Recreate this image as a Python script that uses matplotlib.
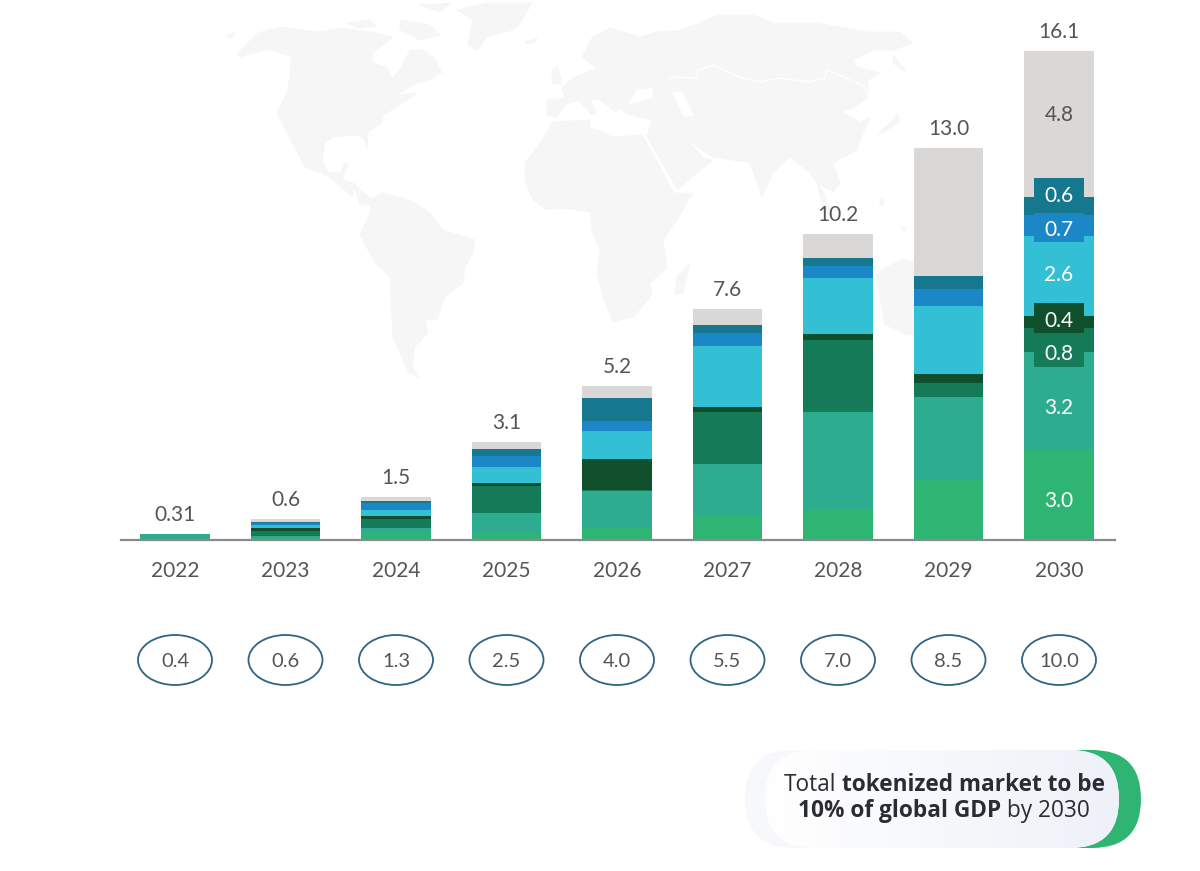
import numpy as np
import matplotlib
matplotlib.use("Agg")
import matplotlib.pyplot as plt
from matplotlib import font_manager as fm
from matplotlib.patches import Ellipse, FancyBboxPatch, Polygon, Rectangle
from matplotlib.colors import LinearSegmentedColormap, to_rgb

plt.rcParams['font.family'] = ['Lato', 'DejaVu Sans']

years = ['2022', '2023', '2024', '2025', '2026', '2027', '2028', '2029', '2030']
totals = ['0.31', '0.6', '1.5', '3.1', '5.2', '7.6', '10.2', '13.0', '16.1']
gdp_share = ['0.4', '0.6', '1.3', '2.5', '4.0', '5.5', '7.0', '8.5', '10.0']

s1 = [0.00, 0.08, 0.20, 0.20, 0.40, 0.79, 0.99, 1.98, 2.96]
s2 = [0.20, 0.06, 0.20, 0.69, 1.22, 1.71, 3.23, 2.73, 3.23]
s3 = [0.00, 0.15, 0.30, 0.89, 0.03, 1.71, 2.37, 0.46, 0.79]
s4 = [0.00, 0.10, 0.08, 0.09, 1.02, 0.16, 0.20, 0.30, 0.40]
s5 = [0.00, 0.12, 0.22, 0.53, 0.92, 2.01, 1.84, 2.24, 2.63]
s6 = [0.00, 0.04, 0.21, 0.36, 0.33, 0.43, 0.40, 0.56, 0.69]
s7 = [0.00, 0.04, 0.07, 0.23, 0.76, 0.26, 0.26, 0.43, 0.59]
s8 = [0.00, 0.11, 0.12, 0.23, 0.40, 0.53, 0.79, 4.21, 4.80]
series = [s1, s2, s3, s4, s5, s6, s7, s8]
colors = ['#2fb573', '#2dac90', '#147a58', '#0f4f2b', '#34c0d4', '#1c87c6', '#15788f', '#d9d8d6']

W, H = 1200, 871
base_px, px_per_unit = 540.0, 30.37
x0_px, step_px = 175.0, 110.5
ax_l, ax_r = 121, 1115

fig = plt.figure(figsize=(W / 100, H / 100), dpi=100, facecolor='white')

# background layer in image pixels: map, ovals, callout
bg = fig.add_axes([0, 0, 1, 1], zorder=0)
bg.set_xlim(0, W)
bg.set_ylim(H, 0)
bg.axis('off')

MAP = '#f6f6f6'
land = [
    # North America
    [(238,53),(258,33),(280,27),(317,32),(343,28),(377,33),(393,37),(373,53),(372,62),(387,68),(392,78),(400,70),
     (410,50),(423,50),(433,57),(442,72),(430,80),(417,83),(397,95),(417,93),(397,107),(383,115),(382,123),(368,132),
     (367,148),(363,137),(353,135),(333,137),(325,143),(322,160),(328,172),(340,173),(345,163),(348,165),(342,180),
     (353,183),(353,197),(330,177),(305,167),(287,133),(277,113),(288,90),(292,57),(267,49),(240,57)],
    # Arctic islands
    [(347,23),(370,20),(377,27),(357,28)],
    [(400,20),(430,25),(440,35),(420,40),(400,30)],
    [(420,5),(450,3),(440,12)],
    [(226,36),(234,33),(232,38)],
    # South America
    [(353,183),(370,198),(372,205),(360,205)],
    [(383,193),(410,200),(430,213),(443,230),(475,240),(473,253),(465,267),(463,283),(445,297),(437,320),(425,320),
     (428,332),(415,347),(412,367),(420,378),(408,372),(402,357),(393,337),(390,277),(375,263),(360,235),(370,213),
     (372,198)],
    # Greenland, Iceland
    [(457,10),(487,3),(532,3),(520,23),(513,30),(487,37),(477,50),(468,45),(473,20)],
    [(525,42),(537,38),(536,42),(527,44)],
    # Africa
    [(540,143),(553,122),(590,120),(590,127),(613,137),(643,135),(673,190),(675,193),(693,193),(677,220),(663,240),
     (667,267),(650,283),(652,295),(633,317),(613,322),(603,297),(597,273),(600,250),(592,230),(590,212),(560,208),
     (547,210),(533,200),(525,180),(525,163)],
    # Eurasia
    [(547,100),(547,115),(557,117),(565,105),(578,100),(592,115),(597,112),(590,100),(600,100),(617,113),(617,108),
     (630,115),(652,120),(647,137),(677,190),(697,173),(713,160),(703,158),(685,137),(697,147),(713,157),(750,163),
     (762,197),(773,173),(790,157),(810,173),(817,183),(833,192),(840,183),(833,163),(857,150),(860,140),(870,118),
     (860,122),(842,112),(855,107),(868,97),(868,80),(880,73),(857,67),(853,60),(873,50),(893,50),(913,43),(900,32),
     (867,32),(817,23),(773,23),(753,15),(717,15),(700,23),(680,30),(657,32),(640,37),(610,28),(592,38),(582,57),
     (597,68),(573,78),(562,88),(565,98)],
    # Australia
    [(876,275),(885,268),(903,259),(915,262),(950,270),(960,300),(950,335),(905,335),(898,330),(885,325)],
    # Madagascar
    [(690,263),(683,293),(675,295),(677,277)],
    # Islands of Asia
    [(817,183),(825,195),(832,217),(824,212)],
    [(893,55),(907,73),(893,63)],
    [(877,135),(895,118),(898,113),(899,122),(886,131)],
    [(880,199),(884,200),(883,206),(880,205)],
    [(900,226),(906,228),(904,232)],
    [(552,70),(558,66),(562,84),(552,84)],
]
for poly in land:
    bg.add_patch(Polygon(poly, closed=True, fc=MAP, ec=MAP, lw=0.6))
# white inner lines and seas of the map
bg.plot([670,673,697,698,713,740,760,780,810,825,827,840,865,868],
        [80,77,78,70,65,77,82,78,82,78,70,75,87,97], color='white', lw=0.9)
bg.add_patch(Polygon([(637,90),(652,88),(653,98),(628,105)], closed=True, fc='white', ec='none'))
bg.add_patch(Polygon([(672,92),(682,92),(694,116),(684,117)], closed=True, fc='white', ec='none'))
bg.add_patch(Polygon([(643,135),(647,137),(677,190),(673,190)], closed=True, fc='white', ec='none'))

# GDP-share ovals
for i, label in enumerate(gdp_share):
    cx = x0_px + step_px * i
    bg.add_patch(Ellipse((cx, 660), 74, 50, fc='white', ec='#2f6484', lw=1.3))
    bg.text(cx, 661, label, ha='center', va='center', fontsize=14.5, color='#555555')

# callout
def pill(x1, x2, y1=750, y2=848, rad=49, **kw):
    p = FancyBboxPatch((x1 + rad, y1 + rad), x2 - x1 - 2 * rad, y2 - y1 - 2 * rad,
                       boxstyle=f'round,pad={rad},rounding_size={rad}', **kw)
    bg.add_patch(p)
    return p

def hgrad(clip, x1, x2, stops, y1=750, y2=848):
    cmap = LinearSegmentedColormap.from_list('g', [(p, to_rgb(c)) for p, c in stops])
    im = bg.imshow(np.linspace(0, 1, 256)[None, :], extent=(x1, x2, y2, y1), cmap=cmap,
                   aspect='auto', zorder=clip.get_zorder() + 0.1)
    im.set_clip_path(clip)

green = pill(900, 1141, fc='none', ec='none', zorder=2)
hgrad(green, 990, 1141, [(0, '#eef8f3'), (0.5, '#c9ebd9'), (0.62, '#2fb573'), (1, '#2fb573')])
outer = pill(745, 1119, fc='#f7f8fc', ec='none', zorder=3)
inner = pill(765, 1119, fc='none', ec='none', zorder=4)
hgrad(inner, 765, 1119, [(0, '#ffffff'), (1, '#eef1f8')])
bg.set_xlim(0, W)
bg.set_ylim(H, 0)

# chart
ax = fig.add_axes([ax_l / W, 1 - base_px / H, (ax_r - ax_l) / W, base_px / H], zorder=1)
ax.patch.set_visible(False)
ax.set_xlim((ax_l - x0_px) / step_px, (ax_r - x0_px) / step_px)
ax.set_ylim(0, base_px / px_per_unit)
for side in ('top', 'left', 'right'):
    ax.spines[side].set_visible(False)
ax.spines['bottom'].set_color('#8a8a8a')
ax.spines['bottom'].set_linewidth(1.6)
ax.set_yticks([])
xs = np.arange(len(years))
ax.set_xticks(xs, years)
ax.tick_params(axis='x', length=0, pad=15, labelsize=15, labelcolor='#555555')

bottom = np.zeros(len(years))
for vals, col in zip(series, colors):
    ax.bar(xs, vals, width=69.5 / step_px, bottom=bottom, color=col, linewidth=0)
    bottom += np.array(vals)

for x, top, lab in zip(xs, bottom, totals):
    ax.annotate(lab, (x, top), xytext=(0, 9), textcoords='offset pixels', ha='center', va='bottom',
                fontsize=15, color='#555555')

# value labels of the last bar
seg_labels = ['3.0', '3.2', '0.8', '0.4', '2.6', '0.7', '0.6', '4.8']
seg_centers_px = [501, 408, 354, 321, 275, 230, 196, 115]
box_px = {2: (328, 367), 3: (303, 333), 5: (213, 242), 6: (178, 213)}
toy = lambda p: (base_px - p) / px_per_unit
bw = 50 / step_px
for k in [6, 5, 2, 3]:
    a, b = box_px[k]
    ax.add_patch(Rectangle((8 - bw / 2, toy(b)), bw, toy(a) - toy(b), fc=colors[k], ec='none', zorder=3))
for k, (lab, p) in enumerate(zip(seg_labels, seg_centers_px)):
    ax.text(8, toy(p), lab, ha='center', va='center', fontsize=15, zorder=4,
            color='#555555' if k == 7 else 'white')

# callout text: regular and bold runs placed side by side
bold_fams = {f.name for f in fm.fontManager.ttflist
             if (f.weight == 700 or f.weight == 'bold')}
callout_font = next((n for n in ['Open Sans', 'Noto Sans', 'Roboto', 'Inter', 'Lato', 'Liberation Sans']
                     if n in bold_fams), 'DejaVu Sans')

def run_line(parts, y, x_center, size=16.3):
    fig.canvas.draw()
    r = fig.canvas.get_renderer()
    items = [bg.text(0, y, t, fontsize=size, fontweight=w, family=callout_font,
                     color='#2b2b33', va='center', ha='left', zorder=6) for t, w in parts]
    widths = [it.get_window_extent(r).width for it in items]
    sp = size * 100 / 72 * 0.26
    total = sum(widths) + sp * (len(items) - 1)
    x = x_center - total / 2
    for it, w in zip(items, widths):
        it.set_x(x)
        x += w + sp

run_line([('Total', 'normal'), ('tokenized market to be', 'bold')], 785, 944)
run_line([('10% of global GDP', 'bold'), ('by 2030', 'normal')], 811, 944)

fig.savefig('out.png', dpi=100, facecolor='white')
